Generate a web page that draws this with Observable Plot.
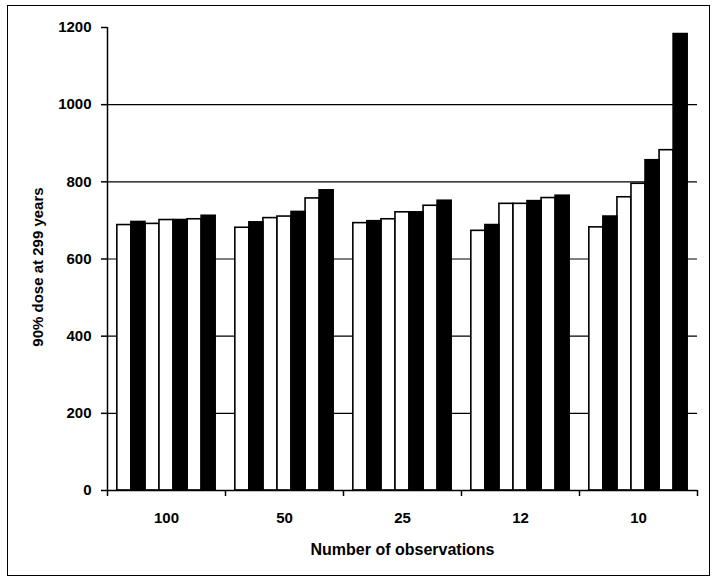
<!DOCTYPE html>
<html><head><meta charset="utf-8">
<script src="https://cdn.jsdelivr.net/npm/d3@7"></script>
<script src="https://cdn.jsdelivr.net/npm/@observablehq/plot@0.6"></script>
<style>
body{margin:0;background:#fff;}
#wrap{position:relative;width:714px;height:580px;}
#border{position:absolute;left:7px;top:5px;width:703px;height:571px;border:1.5px solid #000;box-sizing:border-box;pointer-events:none;}
#wrap svg{position:absolute;left:0;top:0;}
</style></head><body><div id="wrap"><div id="border"></div></div>
<script>
// Categories (number of observations)
const groups = ["100", "50", "25", "12", "10"];
// Seven bars per group, left to right (fill pattern white/black)
const seriesFill = ["white", "black", "white", "white", "black", "white", "black"];
const s1 = [688, 681, 693, 673, 682];
const s2 = [696, 695, 698, 688, 710];
const s3 = [691, 706, 703, 743, 760];
const s4 = [701, 710, 721, 743, 795];
const s5 = [701, 722, 721, 750, 856];
const s6 = [703, 757, 738, 758, 882];
const s7 = [712, 778, 751, 764, 1183];
const yTicks = [0, 200, 400, 600, 800, 1000, 1200];
const gridTicks = [200, 400, 600, 800, 1000];
const yTitle = "90% dose at 299 years";
const xTitle = "Number of observations";

const series = [s1, s2, s3, s4, s5, s6, s7];
const GW = 8.4, GAP = 0.7;
const data = [];
groups.forEach((g, gi) => series.forEach((s, si) => data.push({group: g, gi, si, value: s[gi], fill: seriesFill[si]})));
const boundaries = d3.range(groups.length + 1).map(i => i * GW);
const font = "'Liberation Sans', Arial, sans-serif";

const chart = Plot.plot({
  width: 714, height: 580,
  marginLeft: 107, marginRight: 17, marginTop: 27, marginBottom: 90,
  x: {domain: [0, groups.length * GW], axis: null},
  y: {domain: [0, 1200], axis: null},
  style: {fontFamily: font, fontWeight: 700, fontSize: "15px", color: "#000", background: "transparent"},
  marks: [
    Plot.ruleY(gridTicks, {stroke: "#000", strokeWidth: 1.2}),
    Plot.rectY(data.filter(d => d.fill === "white"), {x1: d => d.gi * GW + GAP + d.si, x2: d => d.gi * GW + GAP + d.si + 1, y1: 0, y2: "value", fill: "white", stroke: "#000", strokeWidth: 1.6}),
    Plot.rectY(data.filter(d => d.fill === "black"), {x1: d => d.gi * GW + GAP + d.si, x2: d => d.gi * GW + GAP + d.si + 1, y1: 0, y2: "value", fill: "black", stroke: "#000", strokeWidth: 1.6}),
    Plot.ruleY([0], {stroke: "#000", strokeWidth: 1.5}),
    Plot.ruleX([0], {y1: 0, y2: 1200, stroke: "#000", strokeWidth: 1.5}),
    Plot.axisY({ticks: yTicks, tickSize: 6, tickPadding: 10, tickFormat: d => String(d), label: null, fontWeight: 700, fontSize: 15, strokeWidth: 1.5}),
    Plot.axisX({ticks: boundaries, tickSize: 6, tickFormat: () => "", label: null, strokeWidth: 1.5}),
    Plot.text(groups, {x: (d, i) => i * GW + GW / 2, y: 0, dy: 28, text: d => d, fontSize: 15, fontWeight: 700, lineAnchor: "middle"}),
    Plot.text([xTitle], {frameAnchor: "bottom", dy: 59, text: d => d, fontSize: 16, fontWeight: 700, textAnchor: "middle", lineAnchor: "middle"}),
    Plot.text([yTitle], {frameAnchor: "left", dx: -69, dy: 8, rotate: -90, text: d => d, fontSize: 15, fontWeight: 700, textAnchor: "middle", lineAnchor: "middle"})
  ]
});
document.getElementById("wrap").appendChild(chart);
</script>
</body></html>
